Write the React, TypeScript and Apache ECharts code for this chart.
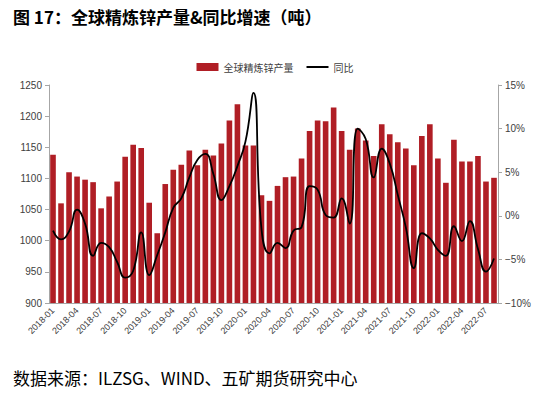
import React, { useEffect, useRef } from "react";
import * as echarts from "echarts";

const months: string[] = [];
for (let y = 2018; y <= 2022; y++) {
  for (let m = 1; m <= 12; m++) {
    if (y === 2022 && m > 8) break;
    months.push(`${y}-${m < 10 ? "0" + m : m}`);
  }
}

const production = [
  1138, 1060, 1110, 1103, 1098, 1094, 1052, 1071, 1095, 1135, 1154, 1149,
  1061, 1012, 1091, 1114, 1122, 1145, 1121, 1146, 1137, 1156, 1193, 1219,
  1153, 1153, 1073, 1064, 1088, 1102, 1103, 1132, 1176, 1193, 1192, 1214,
  1176, 1146, 1180, 1161, 1136, 1187, 1171, 1158, 1148, 1121, 1168, 1187,
  1132, 1093, 1162, 1127, 1127, 1136, 1095, 1101,
];

const yoy = [
  -1.7, -2.7, -1.8, 0.7, -0.9, -4.6, -3.1, -3.6, -5.3, -7.1, -6.3, -1.9,
  -6.8, -4.5, -1.9, 0.9, 2.0, 4.4, 6.4, 7.1, 4.8, 1.8, 3.4, 5.7,
  8.5, 14.1, -1.5, -4.3, -3.1, -3.7, -1.7, -1.3, 3.4, 3.0, 0.1, -0.2,
  2.0, -0.9, 10.0, 8.8, 4.4, 7.7, 6.0, 2.4, -1.3, -6.0, -2.0, -2.6,
  -3.9, -4.6, -1.2, -2.9, -0.6, -3.8, -6.4, -4.9,
];

const titleText = "图 17：全球精炼锌产量&同比增速（吨）";
const sourceText = "数据来源：ILZSG、WIND、五矿期货研究中心";
const barName = "全球精炼锌产量";
const lineName = "同比";

export default function App() {
  const ref = useRef<HTMLDivElement>(null);
  useEffect(() => {
    if (!ref.current) return;
    const chart = echarts.init(ref.current, undefined, { renderer: "svg" });
    const labelColor = "#404040";
    const axisColor = "#a6a6a6";
    const font = "'Liberation Sans', Arial, sans-serif";
    chart.setOption({
      animation: false,
      backgroundColor: "#ffffff",
      graphic: [
        {
          type: "text",
          left: 13,
          top: 8,
          style: {
            text: titleText,
            font: "bold 17px 'Noto Sans CJK SC', sans-serif",
            fill: "#000",
          },
        },
        {
          type: "text",
          left: 13,
          top: 369,
          style: {
            text: sourceText,
            font: "17px 'Noto Sans CJK SC', sans-serif",
            fill: "#000",
          },
        },
      ],
      legend: {
        top: 57,
        left: "center",
        itemGap: 12,
        itemWidth: 22,
        itemHeight: 8,
        textStyle: { fontSize: 10, color: labelColor, fontFamily: "'Noto Sans CJK SC', sans-serif" },
        data: [
          { name: barName, icon: "rect" },
          { name: lineName, itemStyle: { opacity: 0, color: "transparent", borderWidth: 0 } },
        ],
      },
      grid: { left: 49, right: 52, top: 85, bottom: 91, containLabel: false },
      xAxis: {
        type: "category",
        data: months,
        boundaryGap: true,
        axisLine: { onZero: false, lineStyle: { color: axisColor } },
        axisTick: { interval: 2, length: 4, lineStyle: { color: axisColor } },
        axisLabel: {
          interval: 2,
          rotate: 45,
          fontSize: 9,
          color: labelColor,
          fontFamily: font,
          margin: 6,
        },
      },
      yAxis: [
        {
          type: "value",
          min: 900,
          max: 1250,
          interval: 50,
          axisLine: { show: true, lineStyle: { color: axisColor } },
          axisTick: { show: true, length: 4, lineStyle: { color: axisColor } },
          splitLine: { show: false },
          axisLabel: {
            fontSize: 10,
            color: labelColor,
            fontFamily: font,
            margin: 7,
            formatter: (v: number) => String(v),
          },
        },
        {
          type: "value",
          min: -10,
          max: 15,
          interval: 5,
          position: "right",
          axisLine: { show: true, lineStyle: { color: axisColor } },
          axisTick: { show: true, length: 4, lineStyle: { color: axisColor } },
          splitLine: { show: false },
          axisLabel: {
            fontSize: 10,
            color: labelColor,
            fontFamily: font,
            margin: 7,
            formatter: (v: number) => `${v}%`.replace("-", "\u2212"),
          },
        },
      ],
      series: [
        {
          name: barName,
          type: "bar",
          data: production,
          yAxisIndex: 0,
          barCategoryGap: "30%",
          itemStyle: { color: "#B01E25" },
        },
        {
          name: lineName,
          type: "line",
          data: yoy,
          yAxisIndex: 1,
          smooth: 0.5,
          symbol: "none",
          lineStyle: { color: "#000", width: 1.8 },
          itemStyle: { color: "#000" },
        },
      ],
    });
    return () => chart.dispose();
  }, []);
  return <div ref={ref} style={{ width: 550, height: 394, position: "absolute", left: 0, top: 0 }} />;
}
